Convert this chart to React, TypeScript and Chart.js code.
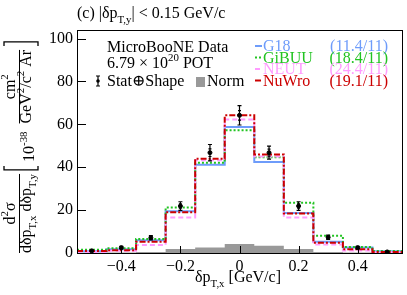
import React, { useEffect, useRef } from 'react';
import { Chart, registerables } from 'chart.js';

Chart.register(...registerables);

const binEdges = [-0.55, -0.45, -0.35, -0.25, -0.15, -0.05, 0.05, 0.15, 0.25, 0.35, 0.45, 0.55];
const binCenters = [-0.5, -0.4, -0.3, -0.2, -0.1, 0, 0.1, 0.2, 0.3, 0.4, 0.5];
const dataValues = [1.0, 2.5, 7.1, 21.9, 46.8, 64.2, 46.8, 21.9, 7.3, 2.5, 0.5];
const dataTotalErr = [0.4, 0.6, 1.0, 2.0, 3.8, 4.5, 3.0, 2.0, 1.0, 0.6, 0.3];
const dataStatErr = [0.2, 0.3, 0.5, 1.0, 1.8, 2.2, 1.6, 1.0, 0.5, 0.3, 0.2];
const g18Values = [0.8, 1.7, 6.0, 19.5, 41.2, 58.8, 42.4, 18.6, 5.3, 2.6, 0.8];
const gibuuValues = [1.5, 2.2, 6.5, 21.2, 42.1, 57.2, 44.6, 23.4, 8.0, 2.8, 0.9];
const neutValues = [0.4, 1.0, 3.7, 16.6, 43.3, 62.3, 45.0, 16.6, 4.0, 1.2, 0.4];
const nuwroValues = [0.9, 1.3, 5.3, 19.0, 44.0, 64.2, 45.9, 18.4, 4.8, 1.7, 0.5];
const normValues = [0.1, 0.2, 0.5, 1.9, 2.6, 4.2, 3.4, 1.9, 0.5, 0.2, 0.1];
const xTicks = [-0.4, -0.2, 0, 0.2, 0.4];
const yTicks = [0, 20, 40, 60, 80, 100];
const modelNames = ['G18', 'GiBUU', 'NEUT', 'NuWro'];
const modelChi2 = ['(11.4/11)', '(18.4/11)', '(24.4/11)', '(19.1/11)'];
const modelColors = ['#6e9cfa', '#22c322', '#ff9cff', '#cc0000'];
const modelDashes = [[], [2, 2], [5, 3], [6, 2, 2, 2]];

const FONT = '"Liberation Serif", "DejaVu Serif", serif';

type Seg = { t: string; s?: 'sub' | 'sup' };

function richWidth(ctx: CanvasRenderingContext2D, segs: Seg[], fs: number) {
  let w = 0;
  for (const s of segs) {
    ctx.font = `${s.s ? fs * 0.68 : fs}px ${FONT}`;
    w += ctx.measureText(s.t).width;
  }
  return w;
}

function drawRich(
  ctx: CanvasRenderingContext2D,
  x: number,
  y: number,
  segs: Seg[],
  fs: number,
  color: string,
  align: 'left' | 'center' | 'right' = 'left'
) {
  const w = richWidth(ctx, segs, fs);
  let cx = align === 'center' ? x - w / 2 : align === 'right' ? x - w : x;
  ctx.fillStyle = color;
  ctx.textBaseline = 'alphabetic';
  ctx.textAlign = 'left';
  for (const s of segs) {
    const size = s.s ? fs * 0.68 : fs;
    ctx.font = `${size}px ${FONT}`;
    const dy = s.s === 'sub' ? fs * 0.32 : s.s === 'sup' ? -fs * 0.42 : 0;
    ctx.fillText(s.t, cx, y + dy);
    cx += ctx.measureText(s.t).width;
  }
  return w;
}

function stepPoints(vals: number[]) {
  const pts = vals.map((v, i) => ({ x: binEdges[i], y: v }));
  pts.push({ x: binEdges[vals.length], y: vals[vals.length - 1] });
  return pts;
}

const decorPlugin = {
  id: 'decor',
  afterDatasetsDraw(chart: any) {
    const ctx: CanvasRenderingContext2D = chart.ctx;
    const xs = chart.scales.x;
    const ys = chart.scales.y;
    ctx.save();
    ctx.strokeStyle = '#000';
    ctx.lineWidth = 1.2;
    binCenters.forEach((c, i) => {
      const px = xs.getPixelForValue(c);
      const lo = ys.getPixelForValue(dataValues[i] - dataTotalErr[i]);
      const hi = ys.getPixelForValue(dataValues[i] + dataTotalErr[i]);
      const slo = ys.getPixelForValue(dataValues[i] - dataStatErr[i]);
      const shi = ys.getPixelForValue(dataValues[i] + dataStatErr[i]);
      ctx.beginPath();
      ctx.moveTo(px, lo);
      ctx.lineTo(px, hi);
      ctx.moveTo(px - 2, lo);
      ctx.lineTo(px + 2, lo);
      ctx.moveTo(px - 2, hi);
      ctx.lineTo(px + 2, hi);
      ctx.moveTo(px - 1.5, slo);
      ctx.lineTo(px + 1.5, slo);
      ctx.moveTo(px - 1.5, shi);
      ctx.lineTo(px + 1.5, shi);
      ctx.stroke();
    });
    ctx.restore();
  },
  afterDraw(chart: any) {
    const ctx: CanvasRenderingContext2D = chart.ctx;
    const a = chart.chartArea;
    const xs = chart.scales.x;
    const ys = chart.scales.y;
    ctx.save();
    // frame
    ctx.strokeStyle = '#000';
    ctx.lineWidth = 1;
    ctx.strokeRect(Math.round(a.left) + 0.5, Math.round(a.top) + 0.5, Math.round(a.right - a.left), Math.round(a.bottom - a.top));
    // inward ticks
    ctx.beginPath();
    yTicks.forEach((v) => {
      const py = Math.round(ys.getPixelForValue(v)) + 0.5;
      ctx.moveTo(a.left, py);
      ctx.lineTo(a.left + 9, py);
    });
    xTicks.forEach((v) => {
      const px = Math.round(xs.getPixelForValue(v)) + 0.5;
      ctx.moveTo(px, a.bottom);
      ctx.lineTo(px, a.bottom - 7);
    });
    ctx.stroke();

    // title
    drawRich(ctx, 77, 18, [{ t: '(c) |δp' }, { t: 'T,y', s: 'sub' }, { t: '| < 0.15 GeV/c' }], 16, '#000');

    // x title
    drawRich(ctx, 238, 282, [{ t: 'δp' }, { t: 'T,x', s: 'sub' }, { t: ' [GeV/c]' }], 16, '#000', 'center');

    // y title (rotated)
    ctx.save();
    ctx.translate(19, 253);
    ctx.rotate(-Math.PI / 2);
    const fs = 16;
    const num1: Seg[] = [{ t: 'd' }, { t: '2', s: 'sup' }, { t: 'σ' }];
    const den1: Seg[] = [{ t: 'dδp' }, { t: 'T,x', s: 'sub' }, { t: ' dδp' }, { t: 'T,y', s: 'sub' }];
    const w1 = Math.max(richWidth(ctx, num1, fs), richWidth(ctx, den1, fs));
    drawRich(ctx, w1 / 2, -4, num1, fs, '#000', 'center');
    drawRich(ctx, w1 / 2, 12, den1, fs, '#000', 'center');
    ctx.strokeStyle = '#000';
    ctx.lineWidth = 1;
    ctx.beginPath();
    ctx.moveTo(0, 0.5);
    ctx.lineTo(w1, 0.5);
    ctx.stroke();
    let u = w1 + 4;
    ctx.lineWidth = 1.3;
    ctx.beginPath();
    ctx.moveTo(u + 4, -15);
    ctx.lineTo(u, -15);
    ctx.lineTo(u, 19);
    ctx.lineTo(u + 4, 19);
    ctx.stroke();
    u += 8;
    const pw = drawRich(ctx, u, 15, [{ t: '10' }, { t: '-38', s: 'sup' }], fs, '#000');
    u += pw + 8;
    const num2: Seg[] = [{ t: 'cm' }, { t: '2', s: 'sup' }];
    const den2: Seg[] = [{ t: 'GeV' }, { t: '2', s: 'sup' }, { t: '/c' }, { t: '2', s: 'sup' }, { t: ' Ar' }];
    const w2 = Math.max(richWidth(ctx, num2, fs), richWidth(ctx, den2, fs));
    drawRich(ctx, u + w2 / 2, -4, num2, fs, '#000', 'center');
    drawRich(ctx, u + w2 / 2, 12, den2, fs, '#000', 'center');
    ctx.lineWidth = 1;
    ctx.beginPath();
    ctx.moveTo(u, 0.5);
    ctx.lineTo(u + w2, 0.5);
    ctx.stroke();
    u += w2 + 8;
    ctx.lineWidth = 1.3;
    ctx.beginPath();
    ctx.moveTo(u - 4, -15);
    ctx.lineTo(u, -15);
    ctx.lineTo(u, 19);
    ctx.lineTo(u - 4, 19);
    ctx.stroke();
    ctx.restore();

    // left legend
    drawRich(ctx, 107, 52, [{ t: 'MicroBooNE Data' }], 16, '#000');
    drawRich(ctx, 107, 68, [{ t: '6.79 × 10' }, { t: '20', s: 'sup' }, { t: ' POT' }], 16, '#000');
    drawRich(ctx, 107, 86, [{ t: 'Stat⊕Shape' }], 16, '#000');
    ctx.strokeStyle = '#000';
    ctx.lineWidth = 1.2;
    ctx.beginPath();
    ctx.moveTo(98, 76);
    ctx.lineTo(98, 86);
    ctx.moveTo(96, 76);
    ctx.lineTo(100, 76);
    ctx.moveTo(96, 86);
    ctx.lineTo(100, 86);
    ctx.stroke();
    ctx.fillStyle = '#000';
    ctx.beginPath();
    ctx.arc(98, 81, 1.8, 0, Math.PI * 2);
    ctx.fill();
    ctx.fillStyle = '#999999';
    ctx.fillRect(196, 77, 9, 10);
    drawRich(ctx, 207, 86, [{ t: 'Norm' }], 16, '#000');

    // right legend
    const baselines = [51, 62.5, 74, 85.5];
    modelNames.forEach((n, i) => {
      const b = baselines[i];
      ctx.strokeStyle = modelColors[i];
      ctx.lineWidth = 2;
      ctx.setLineDash(modelDashes[i]);
      ctx.beginPath();
      ctx.moveTo(255, b - 5);
      ctx.lineTo(262, b - 5);
      ctx.stroke();
      ctx.setLineDash([]);
      drawRich(ctx, 263, b, [{ t: n }], 16, modelColors[i]);
      drawRich(ctx, 388, b, [{ t: modelChi2[i] }], 16, modelColors[i], 'right');
    });
    ctx.restore();
  },
};

function fmt(v: number) {
  if (Math.abs(v) < 1e-9) return '0';
  const s = Math.abs(v).toFixed(1);
  return v < 0 ? '\u2212' + s : s;
}

export default function App() {
  const ref = useRef<HTMLCanvasElement | null>(null);
  useEffect(() => {
    document.body.style.margin = '0';
    const canvas = ref.current;
    if (!canvas) return;
    const tickFont = { family: FONT, size: 16 };
    const modelSets = [nuwroValues, neutValues, gibuuValues, g18Values];
    const setIdx = [3, 2, 1, 0];
    const chart = new Chart(canvas, {
      type: 'line',
      data: {
        datasets: [
          {
            type: 'scatter',
            label: 'Data',
            data: binCenters.map((x, i) => ({ x, y: dataValues[i] })),
            pointRadius: 2,
            pointBackgroundColor: '#000',
            pointBorderColor: '#000',
            showLine: false,
            order: 0,
          } as any,
          ...modelSets.map((vals, k) => ({
            label: modelNames[setIdx[k]],
            data: stepPoints(vals),
            stepped: 'before',
            borderColor: modelColors[setIdx[k]],
            borderWidth: 2,
            borderDash: modelDashes[setIdx[k]],
            pointRadius: 0,
            fill: false,
            order: k + 1,
          })),
          {
            label: 'Norm',
            data: stepPoints(normValues),
            stepped: 'before',
            borderWidth: 0,
            borderColor: 'rgba(0,0,0,0)',
            backgroundColor: '#999999',
            fill: 'origin',
            pointRadius: 0,
            order: 10,
          } as any,
        ],
      },
      options: {
        animation: false,
        responsive: false,
        layout: { padding: { top: 30, right: 5, left: 0, bottom: 0 } },
        plugins: { legend: { display: false }, tooltip: { enabled: false }, title: { display: false } },
        scales: {
          x: {
            type: 'linear',
            min: -0.55,
            max: 0.55,
            afterBuildTicks: (s: any) => {
              s.ticks = xTicks.map((v) => ({ value: v }));
            },
            afterFit: (s: any) => {
              s.height = 42;
            },
            grid: { display: false, drawTicks: false },
            border: { display: false },
            ticks: {
              font: tickFont,
              color: '#000',
              padding: 4,
              maxRotation: 0,
              autoSkip: false,
              callback: (v: any) => fmt(Number(v)),
            },
          },
          y: {
            type: 'linear',
            min: 0,
            max: 104,
            afterBuildTicks: (s: any) => {
              s.ticks = yTicks.map((v) => ({ value: v }));
            },
            afterFit: (s: any) => {
              s.width = 77;
            },
            grid: { display: false, drawTicks: false },
            border: { display: false },
            ticks: {
              font: tickFont,
              color: '#000',
              padding: 4,
              autoSkip: false,
              callback: (v: any) => String(v),
            },
          },
        },
      } as any,
      plugins: [decorPlugin],
    });
    return () => chart.destroy();
  }, []);
  return (
    <div style={{ width: 407, height: 295 }}>
      <canvas ref={ref} width={407} height={295} style={{ display: 'block' }} />
    </div>
  );
}
